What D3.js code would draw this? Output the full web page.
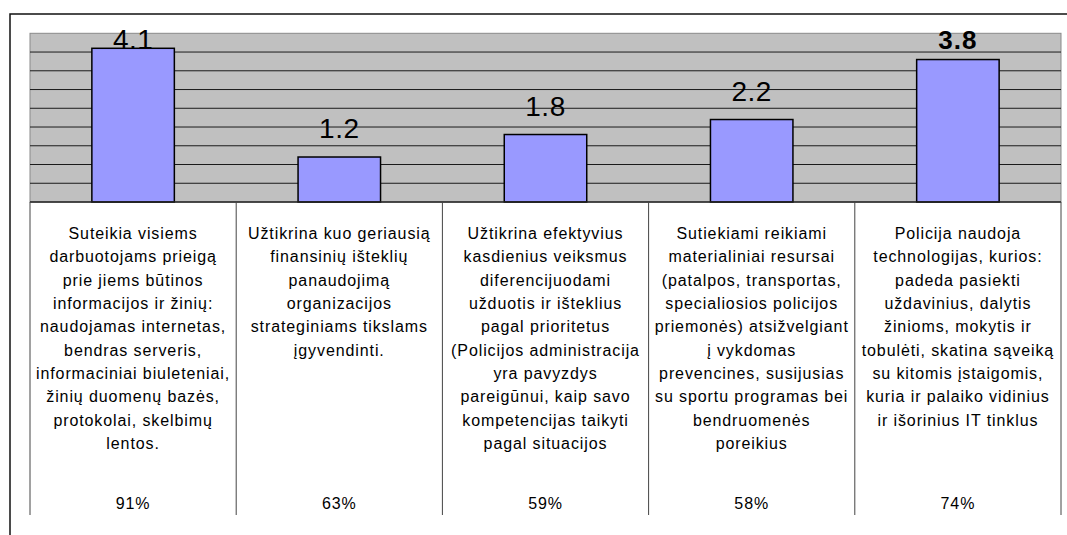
<!DOCTYPE html>
<html>
<head>
<meta charset="utf-8">
<script src="https://cdn.jsdelivr.net/npm/d3@7"></script>
<style>
  body { margin: 0; background: #fff; }
  text { font-family: "Liberation Sans", Arial, sans-serif; }
</style>
</head>
<body>
<div id="chart"></div>
<script>
// values
const values = [4.1, 1.2, 1.8, 2.2, 3.8];
const percents = ["91%", "63%", "59%", "58%", "74%"];
const boldLabel = [false, false, false, false, true];
const categories = [
    ["Suteikia visiems", "darbuotojams prieigą", "prie jiems būtinos", "informacijos ir žinių:",
     "naudojamas internetas,", "bendras serveris,", "informaciniai biuleteniai,",
     "žinių duomenų bazės,", "protokolai, skelbimų", "lentos."],
    ["Užtikrina kuo geriausią", "finansinių išteklių", "panaudojimą", "organizacijos",
     "strateginiams tikslams", "įgyvendinti."],
    ["Užtikrina efektyvius", "kasdienius veiksmus", "diferencijuodami", "užduotis ir išteklius",
     "pagal prioritetus", "(Policijos administracija", "yra pavyzdys", "pareigūnui, kaip savo",
     "kompetencijas taikyti", "pagal situacijos"],
    ["Sutiekiami reikiami", "materialiniai resursai", "(patalpos, transportas,",
     "specialiosios policijos", "priemonės) atsižvelgiant", "į vykdomas",
     "prevencines, susijusias", "su sportu programas bei", "bendruomenės", "poreikius"],
    ["Policija naudoja", "technologijas, kurios:", "padeda pasiekti", "uždavinius, dalytis",
     "žinioms, mokytis ir", "tobulėti, skatina sąveiką", "su kitomis įstaigomis,",
     "kuria ir palaiko vidinius", "ir išorinius IT tinklus"]
];
const yTicks = [0.5, 1, 1.5, 2, 2.5, 3, 3.5, 4, 4.5];

const width = 1067, height = 535;
const plot = { left: 30, right: 1061, top: 33.3, bottom: 202 };
const tableBottom = 515;

const svg = d3.select("#chart").append("svg")
    .attr("width", width)
    .attr("height", height);

const idx = d3.range(values.length);

const x = d3.scaleBand()
    .domain(idx)
    .range([plot.left, plot.right])
    .paddingInner(0.6)
    .paddingOuter(0.3);

const col = d3.scaleBand()
    .domain(idx)
    .range([plot.left, plot.right]);

const y = d3.scaleLinear()
    .domain([0, 4.5])
    .range([plot.bottom, plot.top]);

// outer frame
svg.append("path")
    .attr("d", `M10,${height}V14H${width}`)
    .attr("fill", "none")
    .attr("stroke", "#111")
    .attr("stroke-width", 1.5);

// plot background
svg.append("rect")
    .attr("x", plot.left)
    .attr("y", plot.top)
    .attr("width", plot.right - plot.left)
    .attr("height", plot.bottom - plot.top)
    .attr("fill", "#c0c0c0")
    .attr("stroke", "#8a8a8a")
    .attr("stroke-width", 1);

// grid
svg.append("g")
    .selectAll("line")
    .data(yTicks.slice(0, -1))
    .join("line")
    .attr("x1", plot.left)
    .attr("x2", plot.right)
    .attr("y1", d => y(d))
    .attr("y2", d => y(d))
    .attr("stroke", "#1a1a1a")
    .attr("stroke-width", 1);

// bars
svg.append("g")
    .selectAll("rect")
    .data(values)
    .join("rect")
    .attr("x", (d, i) => x(i))
    .attr("y", d => y(d))
    .attr("width", x.bandwidth())
    .attr("height", d => y(0) - y(d))
    .attr("fill", "#9999ff")
    .attr("stroke", "#000")
    .attr("stroke-width", 1.5);

// value labels
svg.append("g")
    .selectAll("text")
    .data(values)
    .join("text")
    .attr("x", (d, i) => x(i) + x.bandwidth() / 2)
    .attr("y", d => Math.max(y(d) - 19, 49))
    .attr("text-anchor", "middle")
    .attr("font-size", (d, i) => boldLabel[i] ? 26 : 28)
    .attr("font-weight", (d, i) => boldLabel[i] ? "bold" : "normal")
    .attr("letter-spacing", (d, i) => boldLabel[i] ? 1 : 0.5)
    .attr("fill", "#000")
    .text(d => d.toFixed(1));

// plot bottom line
svg.append("line")
    .attr("x1", plot.left)
    .attr("x2", plot.right)
    .attr("y1", plot.bottom)
    .attr("y2", plot.bottom)
    .attr("stroke", "#222")
    .attr("stroke-width", 1.5);

// table column separators
svg.append("g")
    .selectAll("line")
    .data(idx.concat([values.length]))
    .join("line")
    .attr("x1", i => i < values.length ? col(i) : plot.right)
    .attr("x2", i => i < values.length ? col(i) : plot.right)
    .attr("y1", plot.bottom)
    .attr("y2", tableBottom)
    .attr("stroke", "#444")
    .attr("stroke-width", 1);

// category texts
const cells = svg.append("g")
    .selectAll("text")
    .data(categories)
    .join("text")
    .attr("text-anchor", "middle")
    .attr("font-size", 16)
    .attr("letter-spacing", 0.9)
    .attr("fill", "#000");

cells.selectAll("tspan")
    .data((lines, i) => lines.map(l => ({ l, i })))
    .join("tspan")
    .attr("x", d => col(d.i) + col.bandwidth() / 2)
    .attr("y", (d, j) => 239 + j * 23.33)
    .text(d => d.l);

// percentages
svg.append("g")
    .selectAll("text")
    .data(percents)
    .join("text")
    .attr("x", (d, i) => col(i) + col.bandwidth() / 2)
    .attr("y", 509)
    .attr("text-anchor", "middle")
    .attr("font-size", 16)
    .attr("letter-spacing", 0.9)
    .attr("fill", "#000")
    .text(d => d);
</script>
</body>
</html>
